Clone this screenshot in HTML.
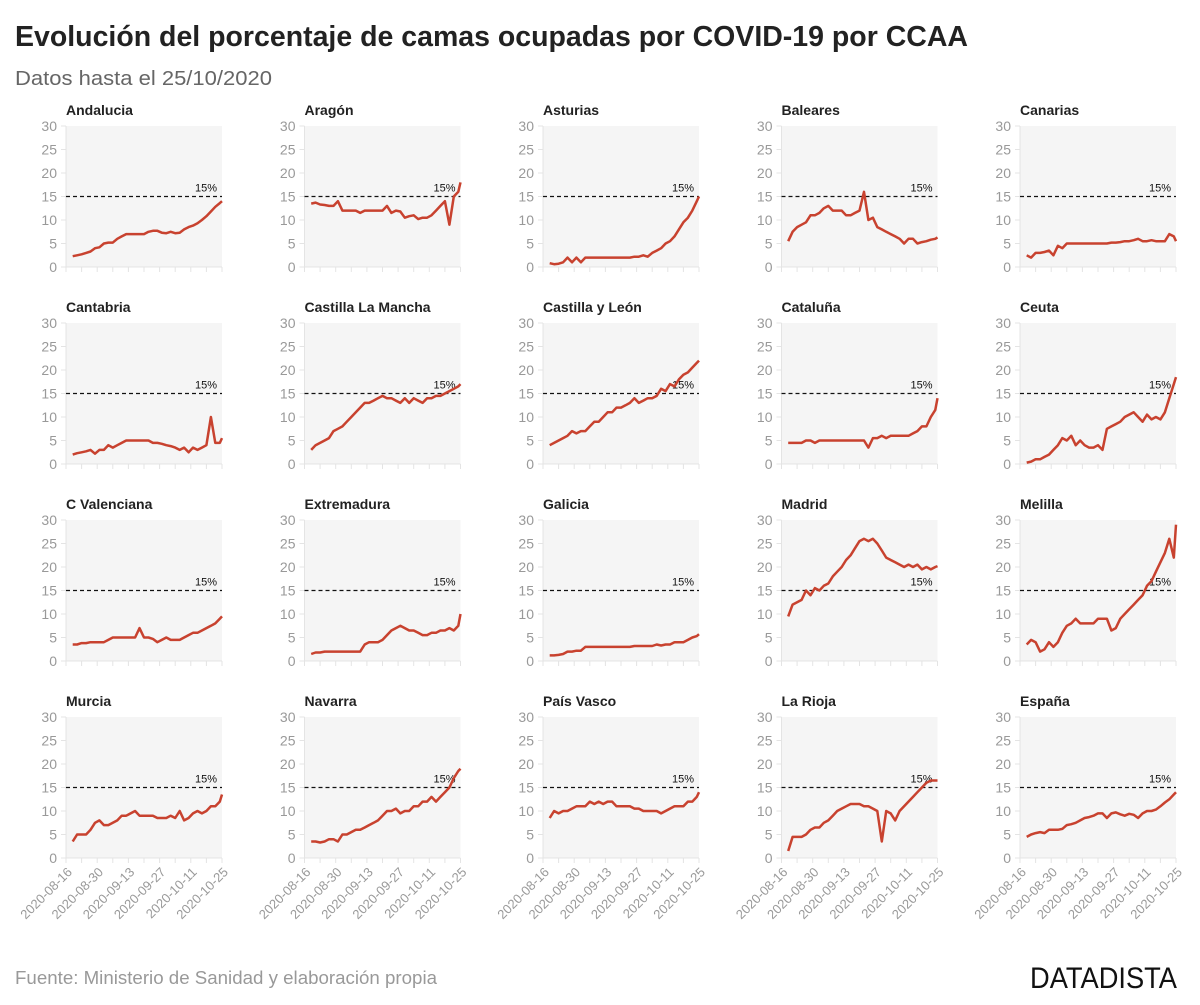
<!DOCTYPE html>
<html><head><meta charset="utf-8">
<style>
body{margin:0;background:#fff;width:1200px;height:1000px;overflow:hidden;font-family:"Liberation Sans",sans-serif;}
svg text{font-family:"Liberation Sans",sans-serif;}
</style></head>
<body>
<svg id="chart" width="1200" height="1000" viewBox="0 0 1200 1000" xmlns="http://www.w3.org/2000/svg">
<text x="15" y="46" font-size="29" font-weight="bold" fill="#222" textLength="953" lengthAdjust="spacingAndGlyphs">Evolución del porcentaje de camas ocupadas por COVID-19 por CCAA</text>
<text x="15" y="85" font-size="20" fill="#666" textLength="257" lengthAdjust="spacingAndGlyphs">Datos hasta el 25/10/2020</text>
<text x="15" y="984" font-size="18" fill="#999" textLength="422" lengthAdjust="spacingAndGlyphs">Fuente: Ministerio de Sanidad y elaboración propia</text>
<text x="1030" y="988" font-size="30" fill="#111" textLength="147" lengthAdjust="spacingAndGlyphs">DATADISTA</text>
<g id="panels"></g>
</svg>
<script>
const regions = ["Andalucia","Aragón","Asturias","Baleares","Canarias","Cantabria","Castilla La Mancha","Castilla y León","Cataluña","Ceuta","C Valenciana","Extremadura","Galicia","Madrid","Melilla","Murcia","Navarra","País Vasco","La Rioja","España"];
const days = [3,5,7,9,11,13,15,17,19,21,23,25,27,29,31,33,35,37,39,41,43,45,47,49,51,53,55,57,59,61,63,65,67,69,70];
const tickLabels = ["2020-08-16","2020-08-30","2020-09-13","2020-09-27","2020-10-11","2020-10-25"];
const tickDays = [0,14,28,42,56,70];
const yTicks = [0,5,10,15,20,25,30];
const threshold = 15;
const vAndalucia = [2.3,2.5,2.7,3,3.3,4,4.2,5,5.2,5.2,6,6.5,7,7,7,7,7,7.5,7.7,7.7,7.3,7.2,7.5,7.2,7.3,8,8.5,8.8,9.3,10,10.8,11.8,12.8,13.6,14];
const vAragon = [13.5,13.7,13.3,13.2,13,13,14,12,12,12,12,11.5,12,12,12,12,12,13,11.5,12,11.8,10.5,10.8,11,10.2,10.5,10.5,11,12,13,14,9,15,16,18];
const vAsturias = [0.8,0.6,0.7,1,2,1,2,1,2,2,2,2,2,2,2,2,2,2,2,2.2,2.2,2.5,2.2,3,3.5,4,5,5.5,6.5,8,9.5,10.5,12,14,15];
const vBaleares = [5.5,7.5,8.5,9,9.5,11,11,11.5,12.5,13,12,12,12,11,11,11.5,12,16,10,10.5,8.5,8,7.5,7,6.5,6,5,6,6,5,5.3,5.5,5.8,6,6.3];
const vCanarias = [2.5,2,3,3,3.2,3.5,2.5,4.5,4,5,5,5,5,5,5,5,5,5,5,5.2,5.2,5.3,5.5,5.5,5.7,6,5.5,5.5,5.7,5.5,5.5,5.5,7,6.5,5.5];
const vCantabria = [2,2.3,2.5,2.7,3,2.2,3,3,4,3.5,4,4.5,5,5,5,5,5,5,4.5,4.5,4.3,4,3.8,3.5,3,3.5,2.5,3.5,3,3.5,4,10,4.5,4.5,5.5];
const vCLM = [3,4,4.5,5,5.5,7,7.5,8,9,10,11,12,13,13,13.5,14,14.5,14,14,13.5,13,14,13,14,13.5,13,14,14,14.5,14.5,15,15.5,16,16.5,17];
const vCyL = [4,4.5,5,5.5,6,7,6.5,7,7,8,9,9,10,11,11,12,12,12.5,13,14,13,13.5,14,14,14.5,16,15.5,17,16.5,18,19,19.5,20.5,21.5,22];
const vCataluna = [4.5,4.5,4.5,4.5,5,5,4.5,5,5,5,5,5,5,5,5,5,5,5,3.5,5.5,5.5,6,5.5,6,6,6,6,6,6.5,7,8,8,10,11.5,14];
const vCeuta = [0.3,0.5,1,1,1.5,2,3,4,5.5,5,6,4,5,4,3.5,3.5,4,3,7.5,8,8.5,9,10,10.5,11,10,9,10.5,9.5,10,9.5,11,14,17,18.5];
const vCValenciana = [3.5,3.5,3.8,3.8,4,4,4,4,4.5,5,5,5,5,5,5,7,5,5,4.7,4,4.5,5,4.5,4.5,4.5,5,5.5,6,6,6.5,7,7.5,8,9,9.5];
const vExtremadura = [1.5,1.8,1.8,2,2,2,2,2,2,2,2,2,3.5,4,4,4,4.5,5.5,6.5,7,7.5,7,6.5,6.5,6,5.5,5.5,6,6,6.5,6.5,7,6.5,7.5,10];
const vGalicia = [1.2,1.2,1.3,1.5,2,2,2.2,2.2,3,3,3,3,3,3,3,3,3,3,3,3.2,3.2,3.2,3.2,3.2,3.5,3.3,3.5,3.5,4,4,4,4.5,5,5.3,5.7];
const vMadrid = [9.5,12,12.5,13,15,14,15.5,15,16,16.5,18,19,20,21.5,22.5,24,25.5,26,25.5,26,25,23.5,22,21.5,21,20.5,20,20.5,20,20.5,19.5,20,19.5,20,20.2];
const vMelilla = [3.5,4.5,4,2,2.5,4,3,4,6,7.5,8,9,8,8,8,8,9,9,9,6.5,7,9,10,11,12,13,14,16,17,19,21,23,26,22,29];
const vMurcia = [3.5,5,5,5,6,7.5,8,7,7,7.5,8,9,9,9.5,10,9,9,9,9,8.5,8.5,8.5,9,8.5,10,8,8.5,9.5,10,9.5,10,11,11,12,13.5];
const vNavarra = [3.5,3.5,3.3,3.5,4,4,3.5,5,5,5.5,6,6,6.5,7,7.5,8,9,10,10,10.5,9.5,10,10,11,11,12,12,13,12,13,14,15,17,18.5,19];
const vPaisVasco = [8.5,10,9.5,10,10,10.5,11,11,11,12,11.5,12,11.5,12,12,11,11,11,11,10.5,10.5,10,10,10,10,9.5,10,10.5,11,11,11,12,12,13,14];
const vLaRioja = [1.5,4.5,4.5,4.5,5,6,6.5,6.5,7.5,8,9,10,10.5,11,11.5,11.5,11.5,11,11,10.5,10,3.5,10,9.5,8,10,11,12,13,14,15,16,16.5,16.5,16.5];
const vEspana = [4.5,5,5.3,5.5,5.3,6,6,6,6.2,7,7.2,7.5,8,8.5,8.7,9,9.5,9.5,8.5,9.5,9.7,9.3,9,9.4,9.2,8.5,9.5,10,10,10.3,11,11.8,12.5,13.5,14];
const series = [vAndalucia,vAragon,vAsturias,vBaleares,vCanarias,vCantabria,vCLM,vCyL,vCataluna,vCeuta,vCValenciana,vExtremadura,vGalicia,vMadrid,vMelilla,vMurcia,vNavarra,vPaisVasco,vLaRioja,vEspana];

const NS="http://www.w3.org/2000/svg";
const root=document.getElementById('panels');
function mk(tag,attrs,parent){const e=document.createElementNS(NS,tag);for(const k in attrs)e.setAttribute(k,attrs[k]);parent.appendChild(e);return e;}
const W=156,H=141,colX=66,colStep=238.5,rowY=126,rowStep=197;
const slug=s=>s.toLowerCase().normalize('NFD').replace(/[\u0300-\u036f]/g,'').replace(/[^a-z0-9]+/g,'-');
regions.forEach((name,i)=>{
  const c=i%5,r=Math.floor(i/5);
  const L=colX+c*colStep,T=rowY+r*rowStep;
  const xs=d=>L+d/70*W, ys=v=>T+H-v/30*H;
  const g=mk('g',{},root);
  
  
  const bg=mk('rect',{x:L,y:T,width:W,height:H,fill:'#f5f5f5'},g);
  
  
  const tt=mk('text',{x:L,y:T-11,'font-size':14,'font-weight':'bold',fill:'#222'},g);tt.textContent=name;
  
  
  mk('line',{x1:L,y1:T,x2:L,y2:T+H,stroke:'#e4e4e4'},g);
  mk('line',{x1:L,y1:T+H,x2:L+W,y2:T+H,stroke:'#e4e4e4'},g);
  for(let d=0;d<=70;d+=7) mk('line',{x1:xs(d),y1:T+H,x2:xs(d),y2:T+H+5,stroke:'#e4e4e4'},g);
  yTicks.forEach(v=>{
    mk('line',{x1:L-5,y1:ys(v),x2:L,y2:ys(v),stroke:'#e4e4e4'},g);
    const t=mk('text',{x:L-9,y:ys(v)+5,'font-size':14,fill:'#999','text-anchor':'end'},g);t.textContent=v;
    
    
  });
  const th=mk('line',{x1:L,y1:ys(threshold),x2:L+W,y2:ys(threshold),stroke:'#111','stroke-width':1.3,'stroke-dasharray':'4,3'},g);
  
  
  const tl=mk('text',{x:L+W-5,y:ys(threshold)-5,'font-size':11,fill:'#111','text-anchor':'end'},g);tl.textContent=threshold+'%';
  
  
  const vals=series[i];
  const n=Math.min(vals.length,days.length);
  let d='';for(let k=0;k<n;k++)d+=(k?'L':'M')+xs(days[k]).toFixed(1)+','+ys(vals[k]).toFixed(1);
  const p=mk('path',{d:d,fill:'none',stroke:'#c8422f','stroke-width':2.5,'stroke-linejoin':'round'},g);
  
  
  if(r===3){
    tickDays.forEach((td,k)=>{
      const x=xs(td),y=T+H+12;
      const t=mk('text',{x:x+4,y:y+4,'font-size':13,fill:'#999','text-anchor':'end',transform:`rotate(-45 ${x+4} ${y})`},g);
      t.textContent=tickLabels[k];
      
      
    });
  }
});
</script>
</body></html>
